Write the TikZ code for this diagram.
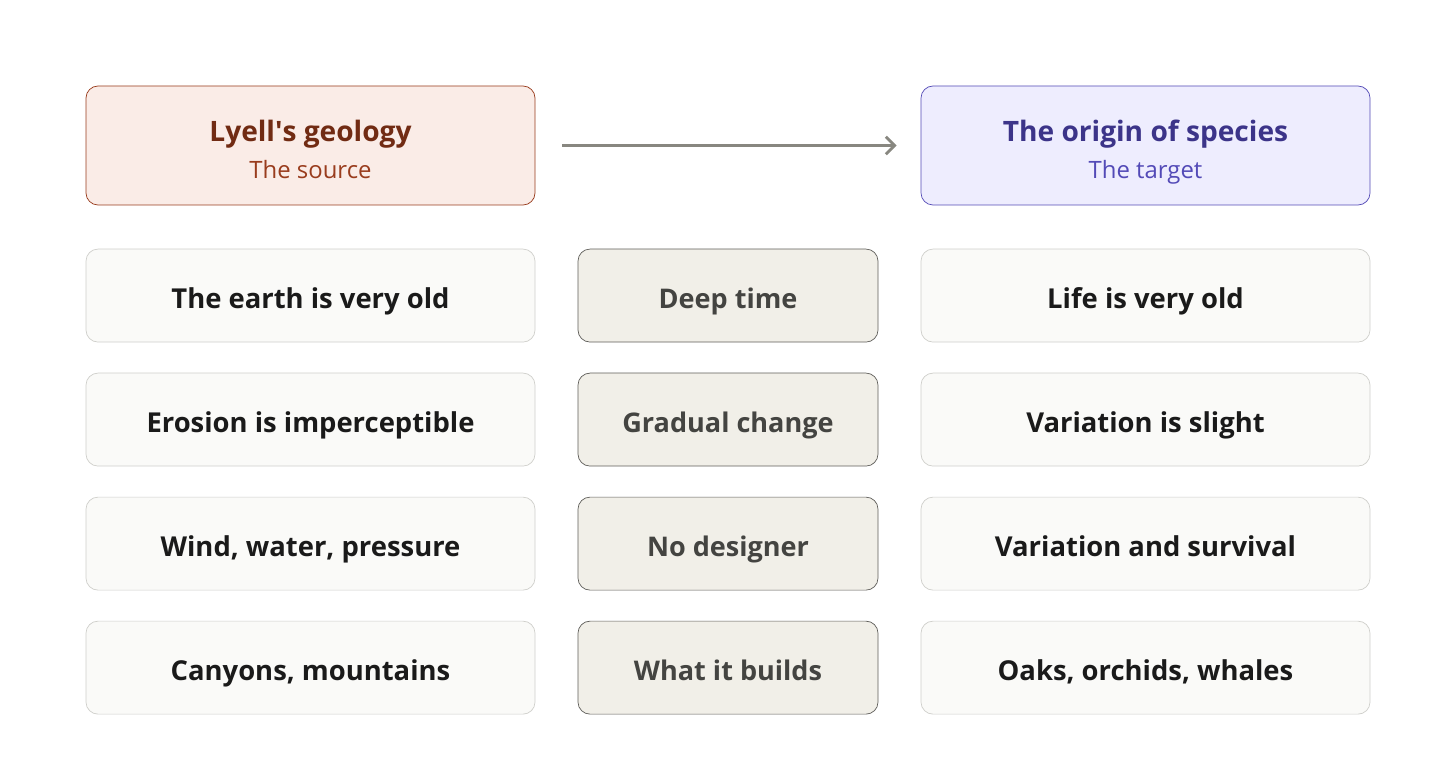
\documentclass[tikz,border=0pt]{standalone}
\usepackage{fontspec}
\setmainfont{Open Sans}
\usetikzlibrary{positioning,arrows.meta}

\definecolor{srcfill}{HTML}{FAECE7}
\definecolor{srcline}{HTML}{993C1D}
\definecolor{srctitle}{HTML}{712B13}
\definecolor{srcsub}{HTML}{993C1D}
\definecolor{tgtfill}{HTML}{EEEDFE}
\definecolor{tgtline}{HTML}{534AB7}
\definecolor{tgttitle}{HTML}{3C3489}
\definecolor{tgtsub}{HTML}{534AB7}
\definecolor{rowfill}{HTML}{FAFAF8}
\definecolor{rowline}{HTML}{CFCFCB}
\definecolor{rowtext}{HTML}{1A1A1A}
\definecolor{linkfill}{HTML}{F1EFE8}
\definecolor{linkline}{HTML}{5F5E5A}
\definecolor{linktext}{HTML}{444441}
\definecolor{arrowgray}{HTML}{888780}

\tikzset{
  headbox/.style={rounded corners=0.24cm, minimum width=8.98cm, minimum height=2.38cm,
    align=center, inner sep=0pt},
  pairbox/.style={draw=rowline, fill=rowfill, rounded corners=0.24cm, minimum width=8.98cm,
    minimum height=1.86cm, inner sep=0pt, text height=0.5cm, text depth=0cm,
    text=rowtext, font=\bfseries\fontsize{15.6}{18}\selectfont},
  linkbox/.style={draw=linkline, fill=linkfill, rounded corners=0.24cm, minimum width=6cm,
    minimum height=1.86cm, inner sep=0pt, text height=0.5cm, text depth=0cm,
    text=linktext, font=\bfseries\fontsize{15.4}{18}\selectfont},
}

\begin{document}
\begin{tikzpicture}
  \useasboundingbox[fill=white] (0,0) rectangle (29.12,-15.16);

  % Source and target
  \node[headbox, draw=srcline, fill=srcfill] (src) at (6.21,-2.91)
    {{\color{srctitle}\bfseries\fontsize{16}{19}\selectfont\rule{0pt}{20pt}Lyell\textquotesingle s geology}\\[6pt]
     {\color{srcsub}\fontsize{13.6}{16}\selectfont\vphantom{Lg}The source}};
  \node[headbox, draw=tgtline, fill=tgtfill] (tgt) at (22.91,-2.91)
    {{\color{tgttitle}\bfseries\fontsize{16}{19}\selectfont\rule{0pt}{20pt}The origin of species}\\[6pt]
     {\color{tgtsub}\fontsize{13.6}{16}\selectfont\vphantom{Lg}The target}};

  \draw[arrowgray, line width=1.6pt, shorten <=0.54cm, shorten >=0.48cm,
        -{Straight Barb[length=5pt, width=10pt]}] (src) -- (tgt);

  % Rows: source claim, shared idea, target claim
  \foreach \i/\l/\m/\r in {
      1/The earth is very old/Deep time/Life is very old,
      2/Erosion is imperceptible/Gradual change/Variation is slight,
      3/{Wind, water, pressure}/No designer/Variation and survival,
      4/{Canyons, mountains}/What it builds/{Oaks, orchids, whales}} {
    \node[pairbox] (l\i) at (6.21,{-0.02*(295.5+124*(\i-1))}) {\l};
    \node[linkbox] (m\i) at (14.56,{-0.02*(295.5+124*(\i-1))}) {\m};
    \node[pairbox] (r\i) at (22.91,{-0.02*(295.5+124*(\i-1))}) {\r};
  }
\end{tikzpicture}
\end{document}
